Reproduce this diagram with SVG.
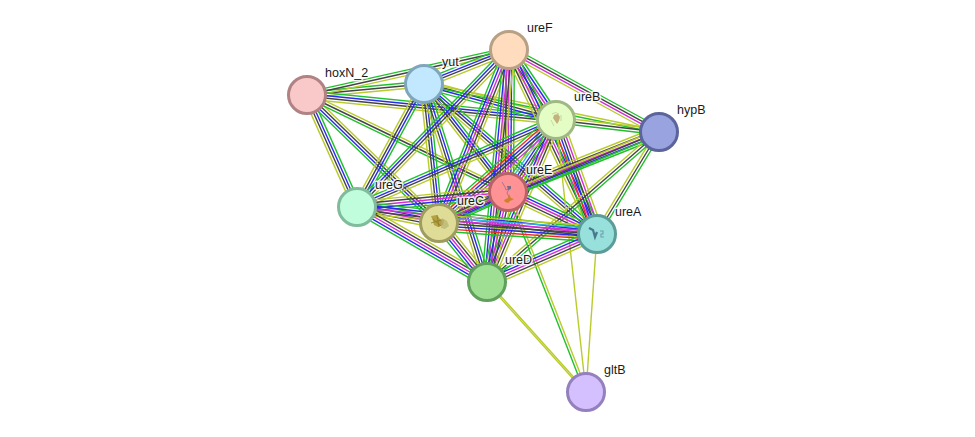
<svg xmlns="http://www.w3.org/2000/svg" width="975" height="437" viewBox="0 0 975 437">
<style>
text{font-family:"Liberation Sans",Arial,sans-serif;font-size:12.5px;fill:#1a1a1a;stroke:#fff;stroke-width:3px;stroke-opacity:.85;paint-order:stroke;stroke-linejoin:round}
line{stroke-width:1.4;vector-effect:non-scaling-stroke;fill:none}
.n{stroke-width:3px}
.g{stroke:#22c02c}.y{stroke:#bacb2c}.k{stroke:#444}.b{stroke:#2a2aee}.m{stroke:#d42fd0}.r{stroke:#f02828}.c{stroke:#2cbbe0}
</style>
<defs>
<!-- unit-length edge bundles; each use stretches x along the edge and keeps y in pixels across it -->
<g id="b3"><line class="g" x2="1" y1="-2.7" y2="-2.7"/><line class="k" x2="1"/><line class="y" x2="1" y1="2.7" y2="2.7"/></g>
<g id="b4"><line class="g" x2="1" y1="-4" y2="-4"/><line class="b" x2="1" y1="-1.3" y2="-1.3"/><line class="k" x2="1" y1="1.3" y2="1.3"/><line class="y" x2="1" y1="4" y2="4"/></g>
<g id="b5"><line class="g" x2="1" y1="-5.4" y2="-5.4"/><line class="b" x2="1" y1="-2.7" y2="-2.7"/><line class="m" x2="1"/><line class="k" x2="1" y1="2.7" y2="2.7"/><line class="y" x2="1" y1="5.4" y2="5.4"/></g>
<g id="m4"><line class="g" x2="1" y1="-4" y2="-4"/><line class="k" x2="1" y1="-1.3" y2="-1.3"/><line class="m" x2="1" y1="1.3" y2="1.3"/><line class="y" x2="1" y1="4" y2="4"/></g>
<g id="b6"><line class="g" x2="1" y1="-6.7" y2="-6.7"/><line class="r" x2="1" y1="-4" y2="-4"/><line class="b" x2="1" y1="-1.3" y2="-1.3"/><line class="k" x2="1" y1="1.3" y2="1.3"/><line class="m" x2="1" y1="4" y2="4"/><line class="y" x2="1" y1="6.7" y2="6.7"/></g>
<g id="c6"><line class="g" x2="1" y1="-6.7" y2="-6.7"/><line class="c" x2="1" y1="-4" y2="-4"/><line class="b" x2="1" y1="-1.3" y2="-1.3"/><line class="k" x2="1" y1="1.3" y2="1.3"/><line class="m" x2="1" y1="4" y2="4"/><line class="y" x2="1" y1="6.7" y2="6.7"/></g>
<g id="b7"><line class="g" x2="1" y1="-8" y2="-8"/><line class="r" x2="1" y1="-5.4" y2="-5.4"/><line class="b" x2="1" y1="-2.7" y2="-2.7"/><line class="k" x2="1"/><line class="m" x2="1" y1="2.7" y2="2.7"/><line class="c" x2="1" y1="5.4" y2="5.4"/><line class="y" x2="1" y1="8" y2="8"/></g>
<g id="gy"><line class="g" x2="1" y1="-1.3" y2="-1.3"/><line class="y" x2="1" y1="1.3" y2="1.3"/></g>
<g id="yy"><line class="y" x2="1" y1="-.8" y2="-.8"/><line class="y" x2="1" y1=".8" y2=".8"/></g>
<g id="y1"><line class="y" x2="1"/></g>
</defs>
<g id="connectors">
<use href="#b3" transform="matrix(117 -11 .094 .996 307 95)"/>
<use href="#b3" transform="matrix(202 -45 .217 .976 307 95)"/>
<use href="#b4" transform="matrix(249 25 -.1 .995 307 95)"/>
<use href="#b4" transform="matrix(50 112 -.913 .408 307 95)"/>
<use href="#b4" transform="matrix(132 128 .696 -.718 307 95)"/>
<use href="#b3" transform="matrix(201 97 .435 -.901 307 95)"/>
<use href="#b4" transform="matrix(85 -34 .371 .928 424 84)"/>
<use href="#b4" transform="matrix(132 36 .263 -.965 424 84)"/>
<use href="#gy" transform="matrix(235 48 .2 -.98 424 84)"/>
<use href="#b4" transform="matrix(-67 123 -.878 -.478 424 84)"/>
<use href="#b4" transform="matrix(15 139 -.994 .107 424 84)"/>
<use href="#b4" transform="matrix(84 108 -.789 .614 424 84)"/>
<use href="#b4" transform="matrix(173 150 -.655 .755 424 84)"/>
<use href="#b4" transform="matrix(63 198 -.953 .303 424 84)"/>
<use href="#b5" transform="matrix(47 70 -.83 .557 509 50)"/>
<use href="#m4" transform="matrix(150 82 -.48 .877 509 50)"/>
<use href="#b5" transform="matrix(-1 142 -1 -.007 509 50)"/>
<use href="#b4" transform="matrix(-152 157 .718 .696 509 50)"/>
<use href="#b5" transform="matrix(-70 173 .927 .375 509 50)"/>
<use href="#b5" transform="matrix(88 184 -.902 .431 509 50)"/>
<use href="#b5" transform="matrix(-22 232 .996 .094 509 50)"/>
<use href="#b3" transform="matrix(103 12 .116 -.993 556 120)"/>
<use href="#c6" transform="matrix(-48 72 .832 .555 556 120)"/>
<use href="#b4" transform="matrix(-199 87 .401 .916 556 120)"/>
<use href="#b6" transform="matrix(-117 103 .661 .751 556 120)"/>
<use href="#b6" transform="matrix(41 114 .941 -.338 556 120)"/>
<use href="#b5" transform="matrix(-69 162 .92 .392 556 120)"/>
<use href="#y1" transform="matrix(30 272 -.994 .11 556 120)"/>
<use href="#b5" transform="matrix(-151 60 -.369 -.929 659 132)"/>
<use href="#b3" transform="matrix(-220 91 -.382 -.924 659 132)"/>
<use href="#b3" transform="matrix(-62 102 -.854 -.519 659 132)"/>
<use href="#b3" transform="matrix(-172 150 -.657 -.754 659 132)"/>
<use href="#b5" transform="matrix(-151 15 -.099 -.995 508 192)"/>
<use href="#b5" transform="matrix(-69 31 -.41 -.912 508 192)"/>
<use href="#b5" transform="matrix(89 42 -.427 .904 508 192)"/>
<use href="#b5" transform="matrix(-21 90 .974 .227 508 192)"/>
<use href="#gy" transform="matrix(78 200 .932 -.363 508 192)"/>
<use href="#b5" transform="matrix(82 16 -.192 .982 357 207)"/>
<use href="#b5" transform="matrix(240 27 -.112 .994 357 207)"/>
<use href="#b5" transform="matrix(130 75 .5 -.867 357 207)"/>
<use href="#b7" transform="matrix(158 11 .069 -.998 439 223)"/>
<use href="#b5" transform="matrix(48 59 .776 -.631 439 223)"/>
<use href="#b5" transform="matrix(-110 48 .4 .917 597 234)"/>
<use href="#y1" transform="matrix(-11 158 -.997 -.069 597 234)"/>
<use href="#yy" transform="matrix(99 110 -.743 .669 487 282)"/>
</g>
<g id="hoxN_2"><circle class="n" cx="307" cy="95" r="18.5" fill="#f9c8c8" stroke="#b08284"/><text x="325" y="77">hoxN_2</text></g>
<g id="yut"><circle class="n" cx="424" cy="84" r="18.5" fill="#c2e8ff" stroke="#80a6bc"/><text x="442" y="66">yut</text></g>
<g id="ureF"><circle class="n" cx="509" cy="50" r="18.5" fill="#ffdcbe" stroke="#b8a084"/><text x="527" y="32">ureF</text></g>
<g id="ureB"><circle class="n" cx="556" cy="120" r="18.5" fill="#e4fdc4" stroke="#a0b884"/>
<path d="M554 115l4-1 2 3-1 4-2 3-2-3-2-3z" fill="#b08a58" opacity=".65"/><path d="M552 114q4-3 7 0M551 120l3 6M561 115l0 6" fill="none" stroke="#b5bd8c" stroke-width=".6"/><text x="574" y="101">ureB</text></g>
<g id="hypB"><circle class="n" cx="659" cy="132" r="18.5" fill="#98a3e0" stroke="#5c649c"/><text x="677" y="114">hypB</text></g>
<g id="ureE"><circle class="n" cx="508" cy="192" r="18.5" fill="#ff9294" stroke="#b86268"/>
<path d="M502 182l3 5 1 3 3-1-2 4 2 4" fill="none" stroke="#a07a98" stroke-width="1"/><path d="M507 186l4 0 0 3-3 1z" fill="#7b6a80"/><path d="M504 200l4-2 1-4 2 4 3 1-4 2-2 2-3-1z" fill="#d0802a"/><text x="526" y="174">ureE</text></g>
<g id="ureG"><circle class="n" cx="357" cy="207" r="18.5" fill="#c0fddc" stroke="#80bc9c"/><text x="375" y="189">ureG</text></g>
<g id="ureC"><circle class="n" cx="439" cy="223" r="18.5" fill="#dfdc98" stroke="#9f9c60"/>
<path d="M431 216l6-1 3 4 4 1-1 5-5 2-4-2-1-4z" fill="#a8922e" opacity=".8"/><path d="M442 218l5 3 2 5-4 3-4-1z" fill="#b8b070" opacity=".7"/><path d="M433 219l8 7M437 215l2 12M431 223l10-3" stroke="#8a7a20" stroke-width=".7" fill="none"/><text x="457" y="205">ureC</text></g>
<g id="ureA"><circle class="n" cx="597" cy="234" r="18.5" fill="#98e0dc" stroke="#5c9c98"/>
<path d="M589 228l4 2 2 7 2-5" fill="none" stroke="#47788f" stroke-width="2.2"/><path d="M600 231h3v3h-2v3h3" fill="none" stroke="#6f9fb0" stroke-width="1.1"/><text x="615" y="216">ureA</text></g>
<g id="ureD"><circle class="n" cx="487" cy="282" r="18.5" fill="#9fdf94" stroke="#60a05c"/><text x="505" y="264">ureD</text></g>
<g id="gltB"><circle class="n" cx="586" cy="392" r="18.5" fill="#d4c0ff" stroke="#9480bc"/><text x="604" y="374">gltB</text></g>
</svg>
